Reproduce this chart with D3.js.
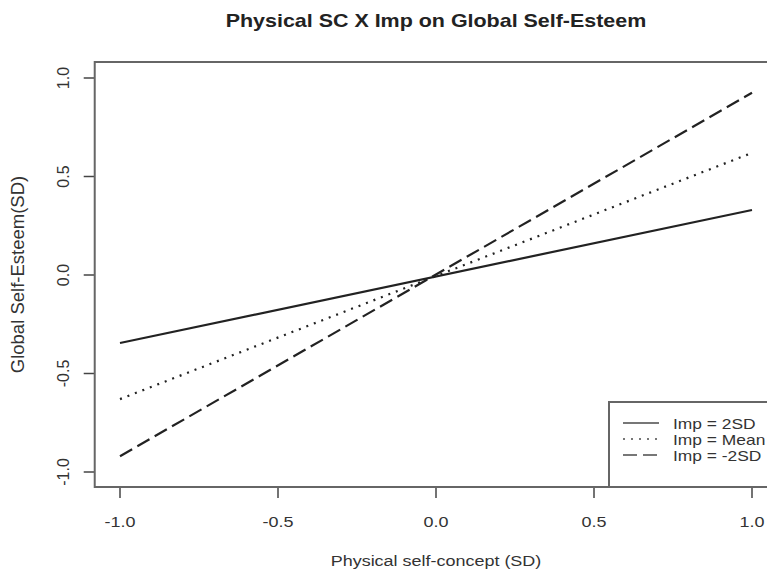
<!DOCTYPE html>
<html>
<head>
<meta charset="utf-8">
<title>Physical SC X Imp on Global Self-Esteem</title>
<script src="https://d3js.org/d3.v7.min.js"></script>
<style>
  body { margin: 0; background: #fff; }
  svg { display: block; font-family: "Liberation Sans", Arial, sans-serif; }
</style>
</head>
<body>
<svg width="767" height="577"></svg>
<script>

// endpoints of the simple slopes at x = -1 and x = 1
var xValues = [-1, 1];
var series = ["Imp = 2SD", "Imp = Mean", "Imp = -2SD"];
var yLow  = [-0.345, -0.63, -0.92];
var yHigh = [0.33, 0.62, 0.925];
var xTicks = [-1.0, -0.5, 0.0, 0.5, 1.0];
var yTicks = [-1.0, -0.5, 0.0, 0.5, 1.0];
var dashes = [null, "2,6", "14,6"];

var svg = d3.select("svg");
var sx = 1.16; // the source picture is a bit stretched sideways

var x = d3.scaleLinear().domain([-1, 1]).range([120, 752]);
var y = d3.scaleLinear().domain([-1, 1]).range([472, 78]);

// R-style plot region (4% padding around data range)
var x0 = x(-1.08), x1 = x(1.08);
var yTop = 62, yBot = 487;

var fmt = function(d) { return d3.format(".1f")(d).replace("−", "-"); };

svg.append("text")
    .attr("transform", "translate(" + (x0 + x1) / 2 + ",27) scale(" + sx + ",1)")
    .attr("text-anchor", "middle")
    .attr("font-weight", "bold")
    .attr("font-size", 18.5)
    .attr("fill", "#222")
    .text("Physical SC X Imp on Global Self-Esteem");

// x axis ticks + labels
var gx = svg.append("g");
gx.selectAll("line")
  .data(xTicks)
  .enter().append("line")
    .attr("x1", function(d) { return x(d); })
    .attr("x2", function(d) { return x(d); })
    .attr("y1", yBot)
    .attr("y2", yBot + 11)
    .attr("stroke", "#444")
    .attr("stroke-width", 1.5);
gx.selectAll("text")
  .data(xTicks)
  .enter().append("text")
    .attr("transform", function(d) { return "translate(" + x(d) + ",527) scale(" + sx + ",1)"; })
    .attr("text-anchor", "middle")
    .attr("font-size", 15.5)
    .attr("fill", "#333")
    .text(fmt);

// y axis ticks + rotated labels
var gy = svg.append("g");
gy.selectAll("line")
  .data(yTicks)
  .enter().append("line")
    .attr("x1", x0 - 11)
    .attr("x2", x0)
    .attr("y1", function(d) { return y(d); })
    .attr("y2", function(d) { return y(d); })
    .attr("stroke", "#444")
    .attr("stroke-width", 1.5);
gy.selectAll("text")
  .data(yTicks)
  .enter().append("text")
    .attr("transform", function(d) { return "translate(69," + y(d) + ") rotate(-90)"; })
    .attr("text-anchor", "middle")
    .attr("font-size", 16)
    .attr("fill", "#333")
    .text(fmt);

svg.append("text")
    .attr("transform", "translate(" + (x0 + x1) / 2 + ",566) scale(" + sx + ",1)")
    .attr("text-anchor", "middle")
    .attr("font-size", 15.5)
    .attr("fill", "#333")
    .text("Physical self-concept (SD)");

svg.append("text")
    .attr("transform", "translate(24," + (yTop + yBot) / 2 + ") rotate(-90)")
    .attr("text-anchor", "middle")
    .attr("font-size", 18.5)
    .attr("fill", "#333")
    .text("Global Self-Esteem(SD)");

// lines
var line = d3.line()
    .x(function(d) { return x(d[0]); })
    .y(function(d) { return y(d[1]); });

svg.append("g")
  .selectAll("path")
  .data(series)
  .enter().append("path")
    .attr("d", function(d, i) { return line([[xValues[0], yLow[i]], [xValues[1], yHigh[i]]]); })
    .attr("fill", "none")
    .attr("stroke", "#222")
    .attr("stroke-width", 2.2)
    .attr("stroke-dasharray", function(d, i) { return dashes[i]; });

// box
svg.append("rect")
    .attr("x", x0)
    .attr("y", yTop)
    .attr("width", x1 - x0)
    .attr("height", yBot - yTop)
    .attr("fill", "none")
    .attr("stroke", "#666")
    .attr("stroke-width", 2);

// legend (bottom right, cut by the page edge)
var lg = svg.append("g").attr("transform", "translate(609,402)");
lg.append("rect")
    .attr("width", 200)
    .attr("height", yBot - 402)
    .attr("fill", "#fff")
    .attr("stroke", "#666")
    .attr("stroke-width", 2);
var items = lg.selectAll("g.item")
  .data(series)
  .enter().append("g")
    .attr("class", "item")
    .attr("transform", function(d, i) { return "translate(0," + (21 + i * 16) + ")"; });
items.append("line")
    .attr("x1", 14)
    .attr("x2", 50)
    .attr("stroke", "#777")
    .attr("stroke-width", 2.2)
    .attr("stroke-dasharray", function(d, i) { return dashes[i]; });
items.append("text")
    .attr("transform", "translate(64,5.5) scale(" + sx + ",1)")
    .attr("font-size", 15)
    .attr("fill", "#333")
    .text(function(d) { return d; });

</script>
</body>
</html>
